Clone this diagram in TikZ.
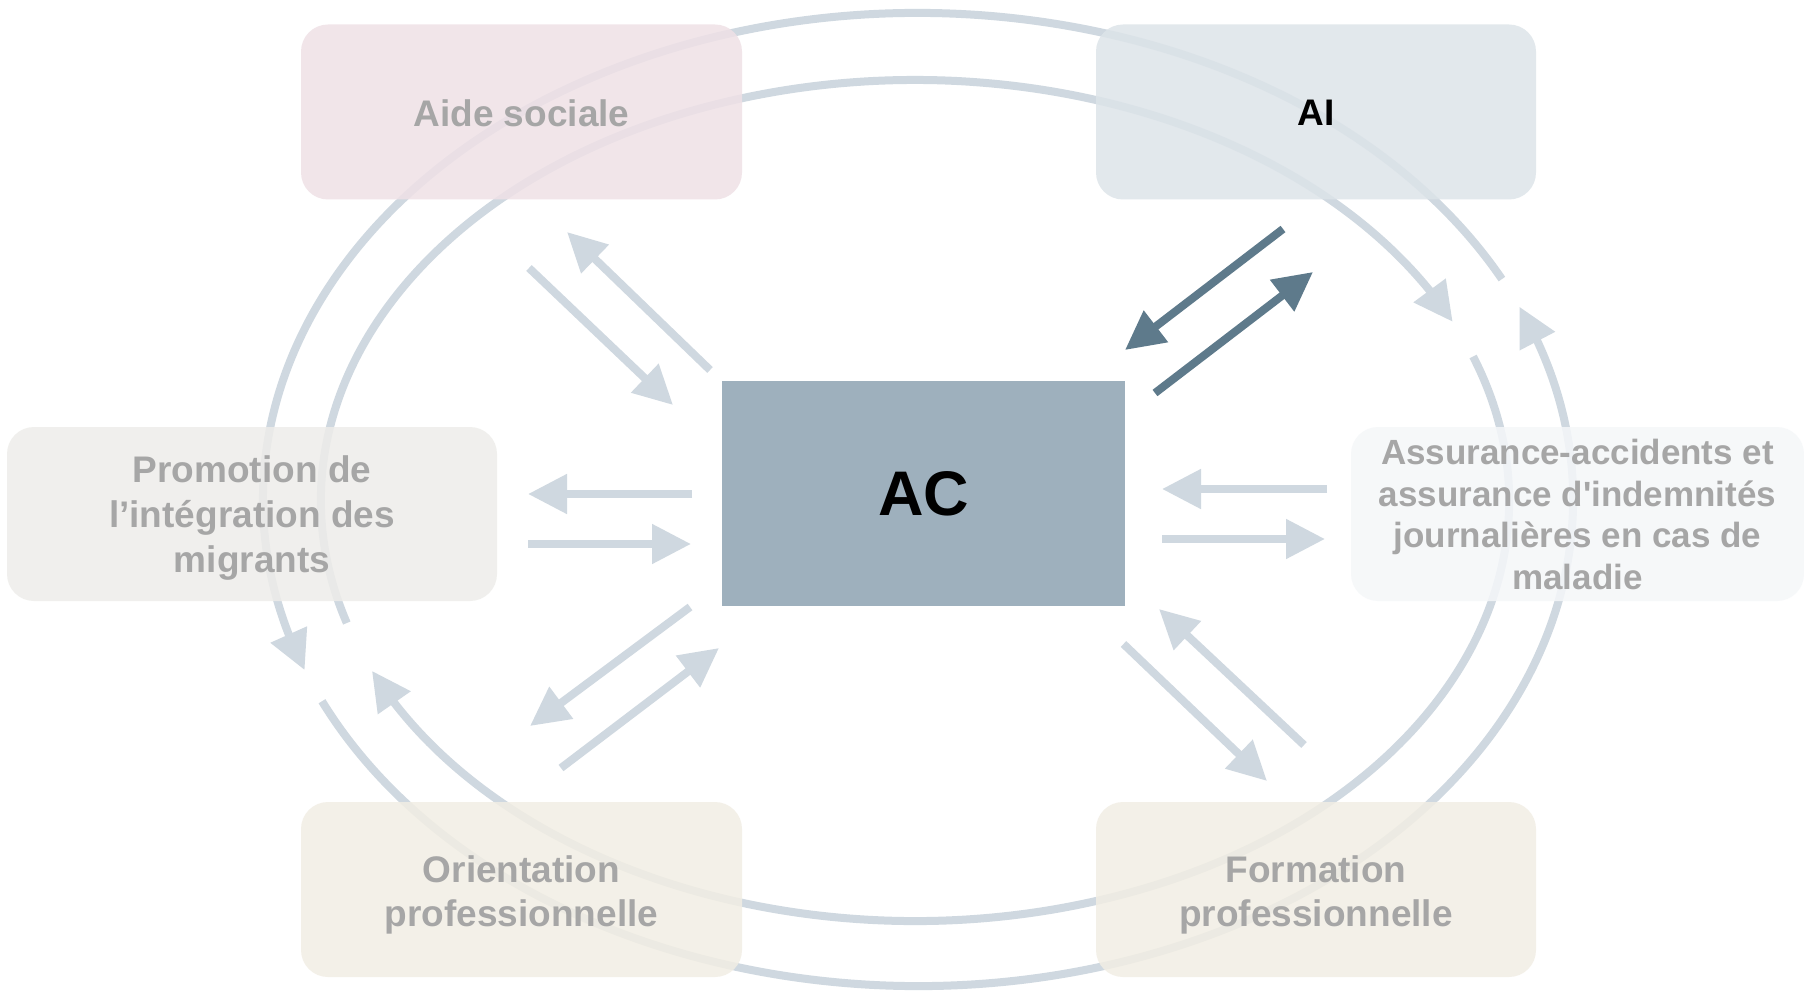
\documentclass[tikz,border=0pt]{standalone}
\usepackage{fontspec}
\newfontfamily\arialf{Liberation Sans}
\usetikzlibrary{arrows.meta,bending}
\definecolor{ringc}{HTML}{CFD8E0}
\definecolor{darkarr}{HTML}{5E7A8B}
\definecolor{txtgray}{HTML}{A6A6A6}
\definecolor{pinkc}{HTML}{EFE1E6}
\definecolor{aic}{HTML}{DDE4E9}
\definecolor{promc}{HTML}{EEEDEA}
\definecolor{assc}{HTML}{F5F7F9}
\definecolor{formc}{HTML}{F2EEE4}
\definecolor{acc}{HTML}{9EB0BD}
\begin{document}
\begin{tikzpicture}[x=1pt,y=-1pt,
  ring/.style={draw=ringc, line width=8pt, -{Triangle[length=39pt,width=38pt]}},
  lightarr/.style={draw=ringc, line width=8pt, -{Triangle[length=39pt,width=38pt]}},
  darkarrow/.style={draw=darkarr, line width=8pt, -{Triangle[length=39pt,width=38pt]}},
  box/.style={rectangle, rounded corners=27pt, inner sep=0pt,
    minimum width=441pt, minimum height=175pt, fill opacity=0.85},
  lbl/.style={inner sep=0pt, align=center,
    font=\arialf\bfseries\fontsize{37}{45}\selectfont, text=txtgray}]
\fill[white] (0,0) rectangle (1804,992);
\useasboundingbox (0,0) rectangle (1804,992);
\def\ocx{918}\def\ocy{499.5}\def\oa{655}\def\ob{486.5}
\def\icx{915}\def\icy{500.5}\def\ia{594}\def\ib{420.5}
% outer ring (counterclockwise)
\draw[ring] ({\ocx+\oa*cos(-26.94)},{\ocy+\ob*sin(-26.94)}) arc[start angle=26.94, end angle=200.53, x radius=\oa pt, y radius=\ob pt];
\draw[ring] ({\ocx+\oa*cos(155.5)},{\ocy+\ob*sin(155.5)}) arc[start angle=-155.5, end angle=23.36, x radius=\oa pt, y radius=\ob pt];
% inner ring (clockwise)
\draw[ring] ({\icx+\ia*cos(163.06)},{\icy+\ib*sin(163.06)}) arc[start angle=-163.06, end angle=-334.85, x radius=\ia pt, y radius=\ib pt];
\draw[ring] ({\icx+\ia*cos(339.97)},{\icy+\ib*sin(339.97)}) arc[start angle=-339.97, end angle=-516.1, x radius=\ia pt, y radius=\ib pt];
% boxes
\node[box, fill=pinkc] (aide) at (521.5,112) {};
\node[box, fill=aic, minimum width=440pt] (ai) at (1316,112) {};
\node[box, fill=promc, minimum width=490pt, minimum height=174pt] (prom) at (252,514) {};
\node[box, fill=assc, minimum width=453pt, minimum height=174pt] (ass) at (1577.5,514) {};
\node[box, fill=formc] (orient) at (521.5,889.5) {};
\node[box, fill=formc, minimum width=440pt] (form) at (1316,889.5) {};
\node[rectangle, fill=acc, inner sep=0pt, minimum width=403pt, minimum height=225pt, font=\arialf\bfseries\fontsize{63}{70}\selectfont] (ac) at (923.5,493.5) {AC};
% box texts
\node[lbl] (aidet) at ([yshift=-1pt]aide.center) {Aide sociale};
\node[lbl, text=black] (ait) at ([yshift=-1pt]ai.center) {AI};
\node[lbl] (promt) at ([yshift=-4.5pt]prom.center) {Promotion de\\l’intégration des\\migrants};
\node[lbl, font=\arialf\bfseries\fontsize{35}{41.8}\selectfont] (asst) at ([yshift=-0.5pt]ass.center) {Assurance-accidents et\\assurance d'indemnités\\journalières en cas de\\maladie};
\node[lbl, font=\arialf\bfseries\fontsize{37}{44}\selectfont] (orientt) at ([yshift=-5pt]orient.center) {Orientation\\professionnelle};
\node[lbl, font=\arialf\bfseries\fontsize{37}{44}\selectfont] (formt) at ([yshift=-5pt]form.center) {Formation\\professionnelle};
% arrow end points
\coordinate (a1s) at (529,268); \coordinate (a1e) at (673,405);
\coordinate (a2s) at (710,370); \coordinate (a2e) at (567,232);
\coordinate (p1s) at (692,494); \coordinate (p1e) at (528,494);
\coordinate (p2s) at (528,544); \coordinate (p2e) at (691,544);
\coordinate (o1s) at (690,607); \coordinate (o1e) at (530,726);
\coordinate (o2s) at (561,768); \coordinate (o2e) at (719,648);
\coordinate (i1s) at (1283,229); \coordinate (i1e) at (1125,350);
\coordinate (i2s) at (1155,393); \coordinate (i2e) at (1313,272);
\coordinate (s1s) at (1327,489); \coordinate (s1e) at (1162,489);
\coordinate (s2s) at (1162,539); \coordinate (s2e) at (1325,539);
\coordinate (f1s) at (1123.5,644); \coordinate (f1e) at (1267,781);
\coordinate (f2s) at (1304,745); \coordinate (f2e) at (1159,609);
\draw[lightarr] (a1s) -- (a1e);
\draw[lightarr] (a2s) -- (a2e);
\draw[lightarr] (p1s) -- (p1e);
\draw[lightarr] (p2s) -- (p2e);
\draw[lightarr] (o1s) -- (o1e);
\draw[lightarr] (o2s) -- (o2e);
\draw[darkarrow] (i1s) -- (i1e);
\draw[darkarrow] (i2s) -- (i2e);
\draw[lightarr] (s1s) -- (s1e);
\draw[lightarr] (s2s) -- (s2e);
\draw[lightarr] (f1s) -- (f1e);
\draw[lightarr] (f2s) -- (f2e);
\end{tikzpicture}
\end{document}
